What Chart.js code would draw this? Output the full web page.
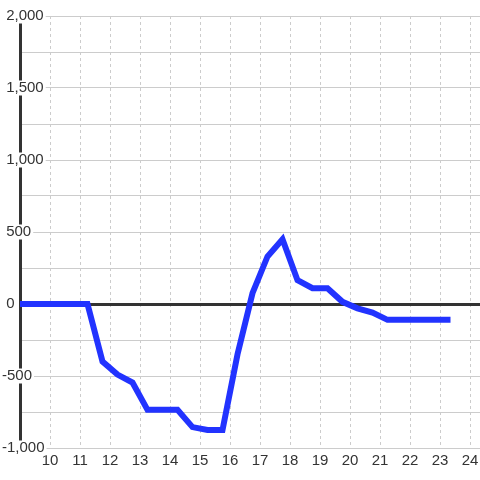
<!DOCTYPE html>
<html><head><meta charset="utf-8">
<script src="https://cdn.jsdelivr.net/npm/chart.js@4"></script>
<style>html,body{margin:0;padding:0;background:#fff}#wrap{width:480px;height:480px}</style>
</head><body><div id="wrap"><canvas id="c" width="480" height="480"></canvas></div>
<script>
const hours = [9, 11.25, 11.75, 12.25, 12.75, 13.25, 13.75, 14.25, 14.75, 15.25, 15.75, 16.25, 16.75, 17.25, 17.75, 18.25, 18.75, 19.25, 19.75, 20.25, 20.75, 21.25, 21.75, 22.25, 22.75, 23.25];
const values = [0, 0, -400, -490, -545, -735, -735, -735, -855, -875, -875, -350, 75, 330, 450, 165, 110, 110, 15, -30, -60, -110, -110, -110, -110, -110];
const xTicks = [10, 11, 12, 13, 14, 15, 16, 17, 18, 19, 20, 21, 22, 23, 24];
const yTicks = [-1000, -750, -500, -250, 0, 250, 500, 750, 1000, 1250, 1500, 1750, 2000];
const yLabelStep = 500;

const font = {family: "'Liberation Sans', Arial, sans-serif", size: 15, lineHeight: 1};
new Chart(document.getElementById('c'), {
  type: 'line',
  data: {datasets: [{
    data: hours.map((h, i) => ({x: h, y: values[i]})),
    borderColor: '#2233ff', borderWidth: 6, pointRadius: 0, tension: 0,
    borderCapStyle: 'square', borderJoinStyle: 'miter', fill: false
  }]},
  options: {
    responsive: false, animation: false, devicePixelRatio: 1,
    layout: {padding: {left: 2, top: 16, right: 0, bottom: 0}},
    plugins: {legend: {display: false}, tooltip: {enabled: false}},
    scales: {
      x: {
        type: 'linear', min: 9, max: 24 + 1/3,
        afterBuildTicks: s => { s.ticks = xTicks.map(v => ({value: v})); },
        afterFit: s => { s.height = 32; s.paddingLeft = 0; s.paddingRight = 0; },
        grid: {color: '#cccccc', lineWidth: 1, drawTicks: false},
        border: {display: false, dash: [3, 3]},
        ticks: {font: font, color: '#333', padding: 5, maxRotation: 0, autoSkip: false,
                callback: v => String(v)}
      },
      y: {
        type: 'linear', min: -1000, max: 2000,
        afterBuildTicks: s => { s.ticks = yTicks.map(v => ({value: v})); },
        afterFit: s => { s.width = 18; s.paddingTop = 0; s.paddingBottom = 0; },
        grid: {
          color: c => (c.tick && c.tick.value === 0) ? '#333' : '#cccccc',
          lineWidth: c => (c.tick && c.tick.value === 0) ? 3 : 1,
          drawTicks: false
        },
        border: {display: true, color: '#333', width: 3},
        ticks: {
          font: font, color: '#333', mirror: true, padding: -18, crossAlign: 'near', autoSkip: false,
          showLabelBackdrop: true, backdropColor: '#ffffff',
          backdropPadding: {top: 0, bottom: 0, left: 2, right: 2},
          callback: v => v % yLabelStep === 0 ? (v < 0 ? '' : ' ') + Number(v).toLocaleString('en-US') : ''
        }
      }
    }
  }
});
</script></body></html>
